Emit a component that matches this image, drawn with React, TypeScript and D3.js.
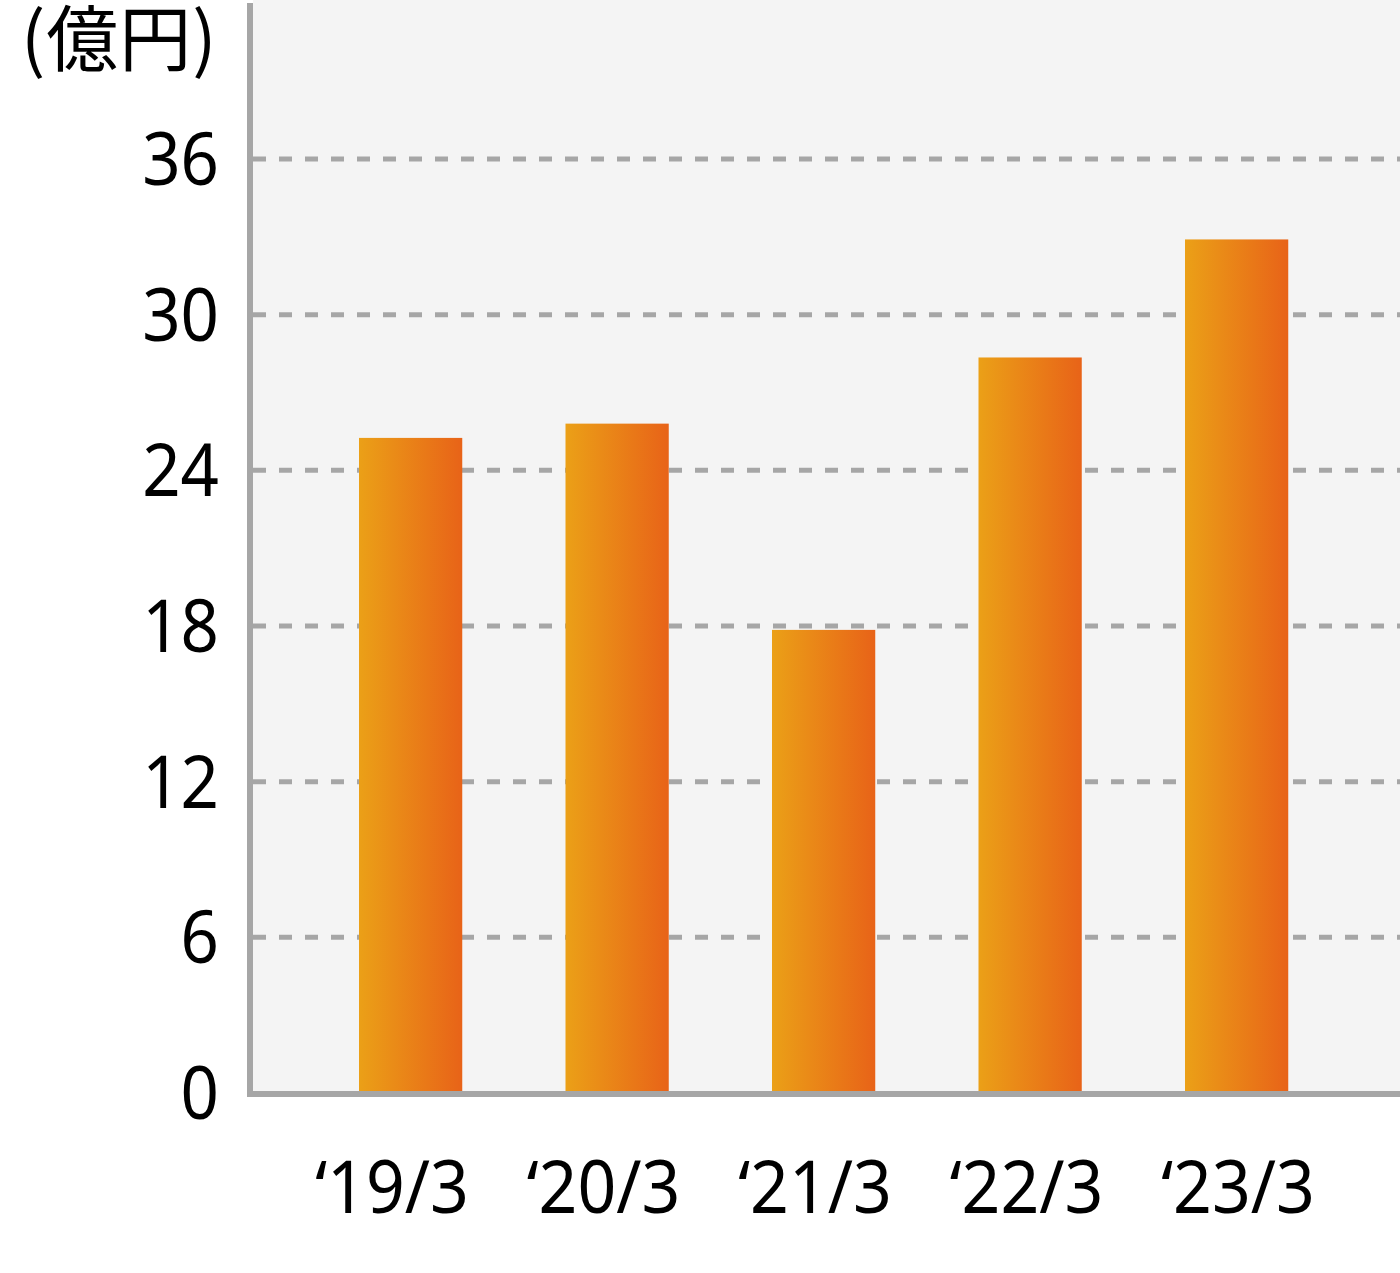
import React from "react";
import * as d3 from "d3";

const categories: string[] = ["'19/3", "'20/3", "'21/3", "'22/3", "'23/3"];
const categoryLabels: string[] = ["\u201819/3", "\u201820/3", "\u201821/3", "\u201822/3", "\u201823/3"];
const values: number[] = [25.25, 25.8, 17.85, 28.35, 32.9];
const yTicks: number[] = [0, 6, 12, 18, 24, 30, 36];
const unitLabel = "(億円)";

const W = 1400;
const H = 1273;

export default function App() {
  const y = d3.scaleLinear().domain([0, 36]).range([1093, 159]);
  const x = d3
    .scaleBand<string>()
    .domain(categories)
    .range([255.75, 1391.5])
    .paddingInner(0.5)
    .paddingOuter(0.5);
  const xl = d3.scalePoint<string>().domain(categories).range([392, 1238]);

  const fontNum = "'Noto Sans', 'DejaVu Sans', sans-serif";
  const axisColor = "#a6a6a6";
  const fs = 73;
  const capHalf = (fs * 0.714) / 2;
  const sx = 0.92;

  return (
    <svg
      width={W}
      height={H}
      style={{ position: "absolute", left: 0, top: 0, background: "#fff" }}
    >
      <defs>
        <linearGradient id="barGrad" x1="0" y1="0" x2="1" y2="0">
          <stop offset="0%" stopColor="#EBA017" />
          <stop offset="100%" stopColor="#E86318" />
        </linearGradient>
      </defs>
      <rect x={253} y={0} width={W - 253} height={y(0) - 2} fill="#f4f4f4" />
      {yTicks
        .filter((t) => t > 0)
        .map((t) => (
          <line
            key={t}
            x1={253}
            x2={W}
            y1={y(t)}
            y2={y(t)}
            stroke={axisColor}
            strokeWidth={5}
            strokeDasharray="13 13"
          />
        ))}
      {categories.map((c, i) => (
        <rect
          key={c}
          x={x(c)}
          y={y(values[i])}
          width={x.bandwidth()}
          height={y(0) - 2 - y(values[i])}
          fill="url(#barGrad)"
        />
      ))}
      <line x1={250} x2={250} y1={3} y2={y(0) + 3} stroke={axisColor} strokeWidth={6} />
      <line x1={247} x2={W} y1={y(0) + 1} y2={y(0) + 1} stroke={axisColor} strokeWidth={6} />
      {yTicks.map((t) => (
        <g key={t} transform={`translate(219,${y(t) + capHalf}) scale(${sx},1)`}>
          <text x={0} y={0} textAnchor="end" fontFamily={fontNum} fontSize={fs} fill="#000">
            {t}
          </text>
        </g>
      ))}
      {categories.map((c, i) => (
        <g key={c} transform={`translate(${xl(c)},1213) scale(0.93,1)`}>
          <text x={0} y={0} textAnchor="middle" fontFamily={fontNum} fontSize={fs} fill="#000">
            {categoryLabels[i]}
          </text>
        </g>
      ))}
      <text
        x={21}
        y={65}
        textAnchor="start"
        fontFamily="'Noto Sans CJK JP', 'Noto Sans', sans-serif"
        fontSize={72}
        letterSpacing={1}
        fill="#000"
      >
        {unitLabel}
      </text>
    </svg>
  );
}
